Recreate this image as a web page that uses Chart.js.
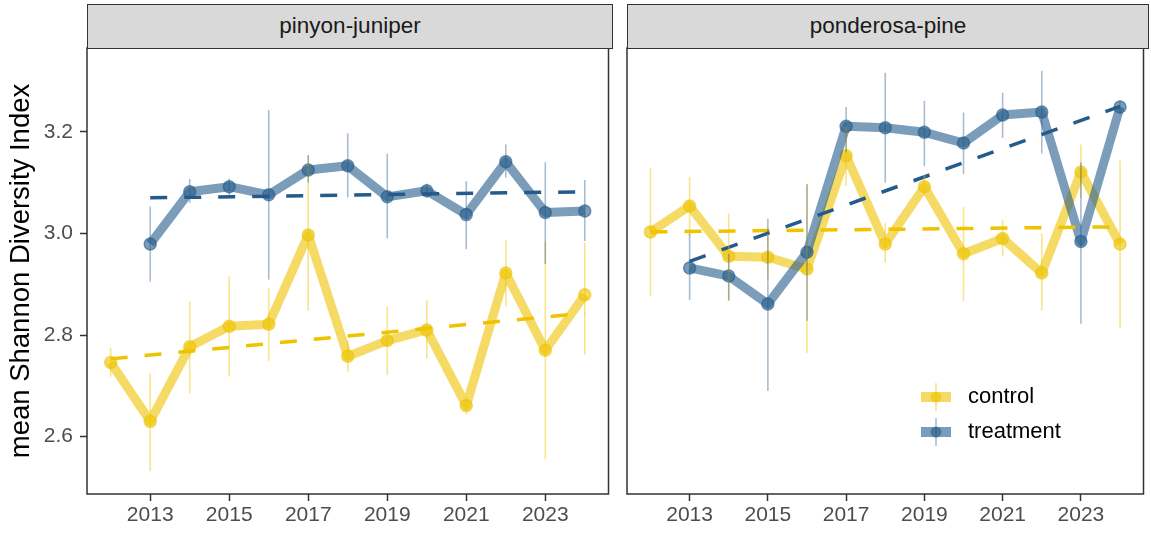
<!DOCTYPE html>
<html>
<head>
<meta charset="utf-8">
<script src="https://cdn.jsdelivr.net/npm/chart.js@4.4.1/dist/chart.umd.min.js"></script>
<style>
  body { margin: 0; background: #fff; font-family: "Liberation Sans", Arial, sans-serif; }
  #wrap { position: relative; width: 1151px; height: 533px; overflow: hidden; }
  canvas { position: absolute; top: 0; }
  .strip { position: absolute; top: 4px; height: 45px; background: #d9d9d9; border: 1.5px solid #333;
           box-sizing: border-box; text-align: center; line-height: 42px; font-size: 22.5px; color: #1a1a1a; }
</style>
</head>
<body>
<div id="wrap">
  <canvas id="pj" style="left:0" width="616" height="533"></canvas>
  <canvas id="pp" style="left:616px" width="535" height="533"></canvas>
  <div class="strip" style="left:87px;width:526px">pinyon-juniper</div>
  <div class="strip" style="left:627px;width:522px">ponderosa-pine</div>
</div>
<script>
// ---- data ----
var controlYears = [2012, 2013, 2014, 2015, 2016, 2017, 2018, 2019, 2020, 2021, 2022, 2023, 2024];
var treatYears   = [2013, 2014, 2015, 2016, 2017, 2018, 2019, 2020, 2021, 2022, 2023, 2024];

// pinyon-juniper
var pjControl   = [2.746, 2.630, 2.777, 2.817, 2.821, 2.997, 2.758, 2.789, 2.810, 2.661, 2.922, 2.770, 2.879];
var pjControlLo = [2.718, 2.532, 2.685, 2.718, 2.749, 2.848, 2.728, 2.721, 2.754, 2.643, 2.857, 2.555, 2.762];
var pjControlHi = [2.775, 2.725, 2.866, 2.916, 2.892, 3.154, 2.790, 2.856, 2.869, 2.680, 2.987, 2.984, 2.982];
var pjTreat     = [2.979, 3.082, 3.092, 3.076, 3.125, 3.133, 3.072, 3.084, 3.037, 3.141, 3.041, 3.044];
var pjTreatLo   = [2.905, 3.060, 3.075, 2.909, 3.100, 3.071, 2.990, 3.070, 2.969, 3.110, 2.940, 2.985];
var pjTreatHi   = [3.053, 3.107, 3.108, 3.243, 3.154, 3.197, 3.157, 3.098, 3.103, 3.175, 3.140, 3.105];
var pjControlTrend = [[2012, 2.753], [2024, 2.843]];
var pjTreatTrend   = [[2013, 3.070], [2024, 3.082]];

// ponderosa-pine
var ppControl   = [3.003, 3.054, 2.955, 2.953, 2.930, 3.153, 2.979, 3.092, 2.960, 2.990, 2.922, 3.121, 2.979];
var ppControlLo = [2.877, 2.995, 2.870, 2.909, 2.765, 3.094, 2.942, 3.075, 2.867, 2.955, 2.848, 3.070, 2.814];
var ppControlHi = [3.129, 3.111, 3.039, 3.000, 3.097, 3.210, 3.020, 3.115, 3.052, 3.027, 3.000, 3.175, 3.144];
var ppTreat     = [2.932, 2.916, 2.861, 2.963, 3.211, 3.208, 3.199, 3.178, 3.233, 3.239, 2.984, 3.249];
var ppTreatLo   = [2.869, 2.867, 2.690, 2.828, 3.160, 3.100, 3.133, 3.117, 3.188, 3.157, 2.822, 3.235];
var ppTreatHi   = [3.000, 2.960, 3.029, 3.097, 3.249, 3.316, 3.261, 3.238, 3.277, 3.320, 3.140, 3.262];
var ppControlTrend = [[2012, 3.003], [2024, 3.013]];
var ppTreatTrend   = [[2013, 2.945], [2024, 3.250]];

var xTicks = [2013, 2015, 2017, 2019, 2021, 2023];
var yTicks = [2.6, 2.8, 3.0, 3.2];
var groups = ['control', 'treatment'];

// ---- styling ----
var yellow = '#EEC300', yellowA = 'rgba(238,195,0,0.6)', yellowE = 'rgba(238,195,0,0.45)';
var blue = '#255B8A', blueA = 'rgba(37,91,138,0.6)', blueE = 'rgba(37,91,138,0.4)';
var fontFam = '"Liberation Sans", Arial, sans-serif';
Chart.defaults.font.family = fontFam;
Chart.defaults.animation = false;

function pts(xs, ys) {
    return ys.map(function (v, i) { return {x: xs[i], y: v}; });
}
function trendPts(t) {
    return t.map(function (p) { return {x: p[0], y: p[1]}; });
}

function lineSet(label, xs, ys, col) {
    return {
        label: label, data: pts(xs, ys), borderColor: col, backgroundColor: col,
        borderWidth: 9, pointRadius: 6, pointBorderWidth: 1.5,
        pointBackgroundColor: col, pointBorderColor: col, borderJoinStyle: 'round', tension: 0
    };
}
function trendSet(t, col) {
    return {
        data: trendPts(t), borderColor: col, borderWidth: 3.5, borderDash: [17, 17],
        pointRadius: 0, borderCapStyle: 'butt', tension: 0
    };
}

// error bars + panel frame drawn through the chart scales
var errorBars = {
    id: 'errorBars',
    afterDatasetsDraw: function (chart) {
        var bars = chart.options.plugins.errorBars.bars;
        var ctx = chart.ctx, xs = chart.scales.x, ys = chart.scales.y;
        ctx.save();
        ctx.lineWidth = 1.6;
        bars.forEach(function (b) {
            ctx.strokeStyle = b.color;
            b.years.forEach(function (yr, i) {
                var px = xs.getPixelForValue(yr);
                ctx.beginPath();
                ctx.moveTo(px, ys.getPixelForValue(b.lo[i]));
                ctx.lineTo(px, ys.getPixelForValue(b.hi[i]));
                ctx.stroke();
            });
        });
        ctx.restore();
    },
    afterDraw: function (chart) {
        var a = chart.chartArea, ctx = chart.ctx;
        ctx.save();
        ctx.strokeStyle = '#333';
        ctx.lineWidth = 1.5;
        ctx.strokeRect(a.left, a.top, a.right - a.left, a.bottom - a.top);
        ctx.restore();
    }
};

var legendBox = {
    id: 'legendBox',
    afterDraw: function (chart) {
        if (!chart.options.plugins.legendBox.show) return;
        var ctx = chart.ctx;
        var cols = [[yellow, yellowA, yellowE], [blue, blueA, blueE]];
        var x0 = 320, ys = [397, 432];
        ctx.save();
        groups.forEach(function (g, i) {
            var cy = ys[i], c = cols[i];
            ctx.fillStyle = c[1];
            ctx.fillRect(x0 - 15, cy - 5, 30, 10);
            ctx.beginPath();
            ctx.arc(x0, cy, 5.5, 0, Math.PI * 2);
            ctx.fill();
            ctx.strokeStyle = c[2];
            ctx.lineWidth = 1.6;
            ctx.beginPath();
            ctx.moveTo(x0, cy - 14);
            ctx.lineTo(x0, cy + 14);
            ctx.stroke();
            ctx.fillStyle = '#000';
            ctx.font = '22px ' + fontFam;
            ctx.textBaseline = 'middle';
            ctx.fillText(g, x0 + 32, cy);
        });
        ctx.restore();
    }
};

function makeOptions(showY, pad) {
    return {
        responsive: false,
        layout: {padding: pad},
        plugins: {
            legend: {display: false},
            tooltip: {enabled: false},
            errorBars: {bars: []},
            legendBox: {show: !showY}
        },
        scales: {
            x: {
                type: 'linear', min: 2011.4, max: 2024.6,
                afterBuildTicks: function (s) { s.ticks = xTicks.map(function (v) { return {value: v}; }); },
                afterFit: function (s) { s.height = 39; },
                ticks: {color: '#4d4d4d', font: {size: 21}, padding: 2,
                        callback: function (v) { return String(v); }},
                grid: {drawOnChartArea: false, drawTicks: true, tickLength: 7, tickColor: '#333', tickWidth: 1.5},
                border: {display: false}
            },
            y: {
                display: showY,
                min: 2.487, max: 3.365,
                afterBuildTicks: function (s) { s.ticks = yTicks.map(function (v) { return {value: v}; }); },
                afterFit: function (s) { s.width = showY ? 87 : 0; },
                ticks: {color: '#4d4d4d', font: {size: 21}, padding: 7,
                        callback: function (v) { return v.toFixed(1); }},
                grid: {drawOnChartArea: false, drawTicks: true, tickLength: 7, tickColor: '#333', tickWidth: 1.5},
                border: {display: false},
                title: {display: true, text: 'mean Shannon Diversity Index', color: '#000',
                        font: {size: 27.5}, padding: {top: 5, bottom: 0}}
            }
        }
    };
}

function buildPanel(id, showY, pad, c, cLo, cHi, t, tLo, tHi, cTrend, tTrend) {
    var opts = makeOptions(showY, pad);
    opts.plugins.errorBars.bars = [
        {years: controlYears, lo: cLo, hi: cHi, color: yellowE},
        {years: treatYears, lo: tLo, hi: tHi, color: blueE}
    ];
    return new Chart(document.getElementById(id), {
        type: 'line',
        data: {
            datasets: [
                trendSet(tTrend, blue),
                trendSet(cTrend, yellow),
                lineSet('treatment', treatYears, t, blueA),
                lineSet('control', controlYears, c, yellowA)
            ]
        },
        options: opts,
        plugins: [errorBars, legendBox]
    });
}

buildPanel('pj', true, {top: 48, right: 4, left: 0, bottom: 0},
    pjControl, pjControlLo, pjControlHi, pjTreat, pjTreatLo, pjTreatHi, pjControlTrend, pjTreatTrend);
buildPanel('pp', false, {top: 48, right: 3, left: 11, bottom: 0},
    ppControl, ppControlLo, ppControlHi, ppTreat, ppTreatLo, ppTreatHi, ppControlTrend, ppTreatTrend);
</script>
</body>
</html>
